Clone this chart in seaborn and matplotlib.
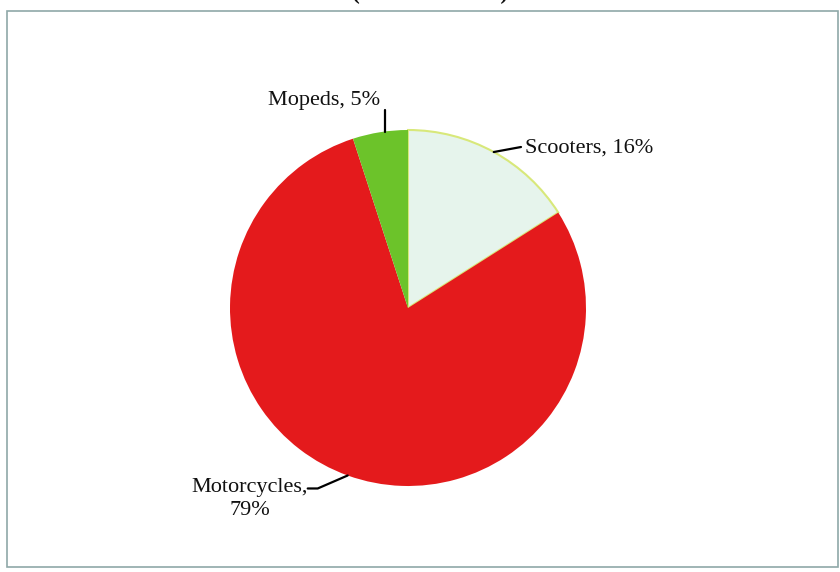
import numpy as np
import matplotlib
matplotlib.use("Agg")
import matplotlib.pyplot as plt
import seaborn as sns
from matplotlib.patches import Rectangle

# Two-wheeler market split (volume terms)
segments = ["Scooters", "Motorcycles", "Mopeds"]
shares = [16, 79, 5]
colors = ["#E6F4EC", "#E41A1C", "#6CC32A"]
label_text = ["Scooters, 16%", "Motorcycles,\n79%", "Mopeds, 5%"]

sns.set_theme(style="white")
plt.rcParams["font.family"] = ["Liberation Serif", "DejaVu Serif"]

W, H = 840, 572
fig = plt.figure(figsize=(W / 100, H / 100), dpi=100)
ax = fig.add_axes([0, 0, 1, 1])

cx, cy, r = 408, H - 308, 178
wedges, _ = ax.pie(shares, colors=colors, startangle=90, counterclock=False,
                   center=(cx, cy), radius=r, frame=True,
                   wedgeprops=dict(linewidth=0))
wedges[0].set_edgecolor("#D8E87A")
wedges[0].set_linewidth(1.5)
ax.set_xlim(0, W)
ax.set_ylim(0, H)
ax.set_aspect("equal")
ax.axis("off")

# label text anchors
text_pos = [(525, H - 148), (250, H - 499), (380, H - 100)]

for i, w in enumerate(wedges):
    ang = np.deg2rad((w.theta1 + w.theta2) / 2)
    ex, ey = cx + r * np.cos(ang), cy + r * np.sin(ang)
    tx, ty = text_pos[i]
    if i == 0:
        ax.plot([ex, tx - 4], [ey, ty + 1], color="black", lw=1.6)
        ax.text(tx, ty, label_text[i], ha="left", va="center", fontsize=16, color="#111")
    elif i == 1:
        ax.plot([ex, ex - 30, ex - 40], [ey, ey - 13, ey - 13], color="black", lw=1.6)
        ax.text(tx, ty, label_text[i], ha="center", va="center", fontsize=16,
                color="#111", multialignment="center", linespacing=1.35)
    else:
        ax.plot([ex + 5, ex + 5], [ey, ey + 22], color="black", lw=1.6)
        ax.text(tx, ty, label_text[i], ha="right", va="center", fontsize=16, color="#111")

# outer frame and clipped title
ax.add_patch(Rectangle((7, H - 567), 831, 556, fill=False,
                       edgecolor="#8FA8A8", lw=1.2))
ax.text(430, H + 1, "(Volume terms)", ha="center", va="baseline",
        fontsize=17, fontweight="bold", color="#111")

fig.savefig("out.png", dpi=100, facecolor="white")
